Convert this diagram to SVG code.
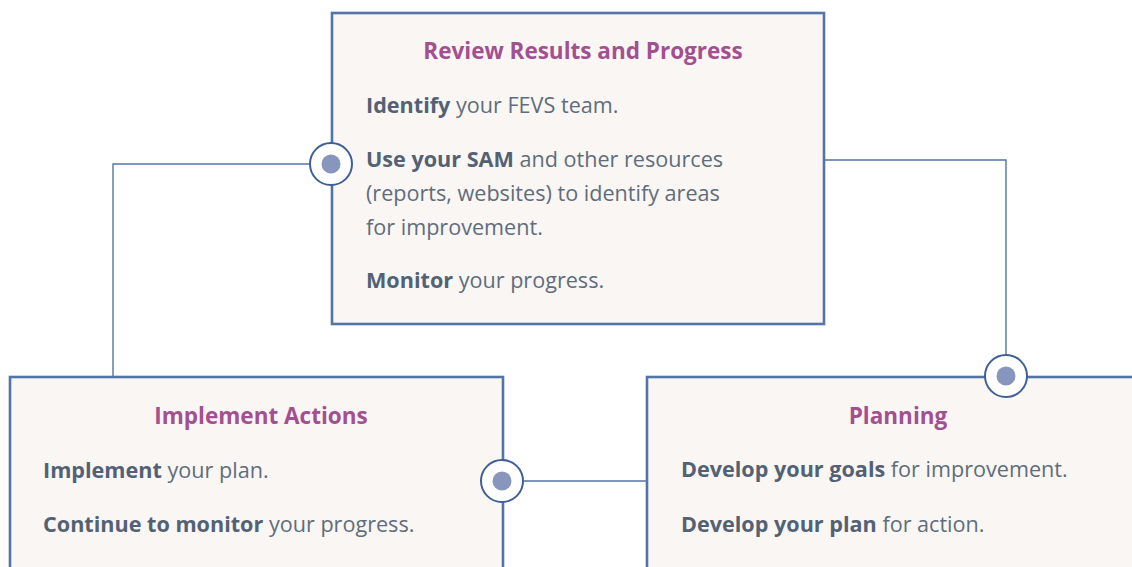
<svg xmlns="http://www.w3.org/2000/svg" width="1132" height="567" viewBox="0 0 1132 567">
<style>
.box{fill:#faf6f3;stroke:#5274a6;stroke-width:2.6}
.title{font-family:"Open Sans","Liberation Sans",sans-serif;font-weight:700;font-size:22.5px;fill:#a2508f;text-anchor:middle}
.body{font-family:"Open Sans","Liberation Sans",sans-serif;font-weight:400;font-size:21.6px;fill:#5e6d7d}
.b{font-weight:700;fill:#526274}
.conn{fill:none;stroke:#5274a6;stroke-width:1.4}
.ring{fill:#ffffff;stroke:#3f5f96;stroke-width:2}
.dot{fill:#8895bc}
</style>
<rect width="1132" height="567" fill="#ffffff"/>
<g id="connectors">
<polyline class="conn" points="331,164 113,164 113,377"/>
<polyline class="conn" points="824,160 1006,160 1006,376"/>
<polyline class="conn" points="502,481 647,481"/>
</g>
<g id="node-review">
<rect class="box" x="332" y="13" width="492" height="311"/>
<text class="title" x="583" y="59">Review Results and Progress</text>
<text class="body" x="366" y="113"><tspan class="b">Identify</tspan> your FEVS team.</text>
<text class="body" x="366" y="167"><tspan class="b">Use your SAM</tspan> and other resources</text>
<text class="body" x="366" y="201">(reports, websites) to identify areas</text>
<text class="body" x="366" y="235">for improvement.</text>
<text class="body" x="366" y="288"><tspan class="b">Monitor</tspan> your progress.</text>
</g>
<g id="node-implement">
<rect class="box" x="10" y="377" width="493" height="210"/>
<text class="title" x="261" y="424">Implement Actions</text>
<text class="body" x="43" y="478"><tspan class="b">Implement</tspan> your plan.</text>
<text class="body" x="43" y="532"><tspan class="b">Continue to monitor</tspan> your progress.</text>
</g>
<g id="node-planning">
<rect class="box" x="647" y="377" width="520" height="210"/>
<text class="title" x="898" y="424">Planning</text>
<text class="body" x="681" y="477"><tspan class="b">Develop your goals</tspan> for improvement.</text>
<text class="body" x="681" y="532"><tspan class="b">Develop your plan</tspan> for action.</text>
</g>
<g id="junctions">
<circle class="ring" cx="331" cy="164" r="21"/><circle class="dot" cx="331" cy="164" r="9.5"/>
<circle class="ring" cx="1006" cy="376" r="21"/><circle class="dot" cx="1006" cy="376" r="9.5"/>
<circle class="ring" cx="502" cy="481" r="21"/><circle class="dot" cx="502" cy="481" r="9.5"/>
</g>
</svg>
